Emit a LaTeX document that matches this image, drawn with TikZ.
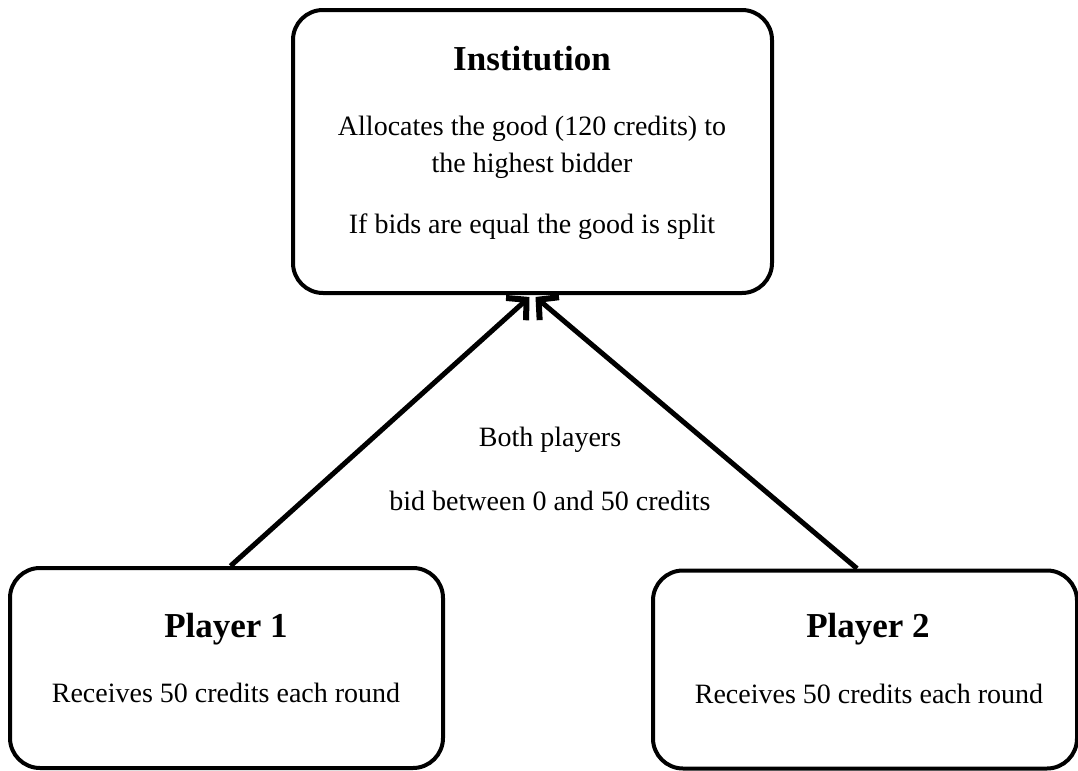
\documentclass[tikz,border=0pt]{standalone}
\usepackage{fontspec}
\setmainfont{Liberation Serif}
\usetikzlibrary{arrows.meta}
\usetikzlibrary{positioning}
\newcommand{\boxTitle}[1]{\textbf{\fontsize{17.5}{21}\selectfont #1}}

\begin{document}
\begin{tikzpicture}[x=0.5pt,y=-0.5pt,
    roundBox/.style={draw, line width=2pt, rounded corners=15pt, inner sep=0pt},
    boxText/.style={anchor=base, inner sep=0pt, font=\fontsize{14}{16}\selectfont},
    bidArrow/.style={line width=2.5pt, -{Straight Barb[length=7pt,width=15pt,line width=3pt]}}]
  \useasboundingbox (0,0) rectangle (1078,771);
  % boxes
  \node[roundBox, minimum width=239.5pt, minimum height=141.5pt] (inst) at (532.5,151.5) {};
  \node[roundBox, minimum width=216.5pt, minimum height=100pt] (playerOne) at (226.5,668) {};
  \node[roundBox, minimum width=212pt, minimum height=99pt] (playerTwo) at (865,669.5) {};
  % institution texts
  \node[boxText] (instTitle) at (532,70) {\boxTitle{Institution}};
  \node[boxText] (instRuleA) at (532,135) {Allocates the good (120 credits) to};
  \node[boxText] (instRuleB) at (532,172) {the highest bidder};
  \node[boxText] (instRuleC) at (532,233) {If bids are equal the good is split};
  % player texts
  \node[boxText] (oneTitle) at (226,637) {\boxTitle{Player 1}};
  \node[boxText] (oneInfo) at (226,702) {Receives 50 credits each round};
  \node[boxText] (twoTitle) at (868,637) {\boxTitle{Player 2}};
  \node[boxText] (twoInfo) at (869,703) {Receives 50 credits each round};
  % bids
  \node[boxText] (bidA) at (550,446) {Both players};
  \node[boxText] (bidB) at (550,510) {bid between 0 and 50 credits};
  \draw[bidArrow] ([xshift=2pt]playerOne.north) -- ([xshift=-1.5pt,yshift=-1pt]inst.south);
  \draw[bidArrow] ([xshift=-4pt]playerTwo.north) -- ([xshift=1.5pt,yshift=-1pt]inst.south);
\end{tikzpicture}
\end{document}
